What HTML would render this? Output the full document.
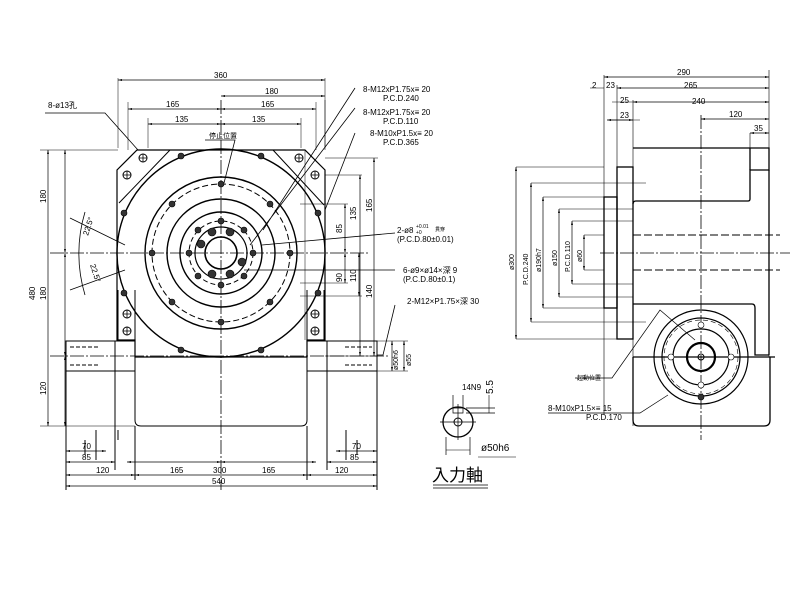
<!DOCTYPE html>
<html><head><meta charset="utf-8"><style>
html,body{margin:0;padding:0;background:#fff}
svg{display:block}
text{font-family:"Liberation Sans","Noto Sans CJK JP",sans-serif;fill:#000}
</style></head><body>
<svg width="800" height="609" viewBox="0 0 800 609" xmlns="http://www.w3.org/2000/svg" font-size="8">
<defs><marker id="a" viewBox="0 0 8 4" refX="8" refY="2" markerWidth="6" markerHeight="3" orient="auto-start-reverse"><path d="M0,0L8,2L0,4z"/></marker></defs>
<g fill="none" stroke="#000" stroke-width="1">
<path d="M137,150H305L325,170V340H307V357H135V340H117V170Z" stroke-width="1.2"/>
<path d="M170,150L119,203M273,150L324,205"/>
<circle cx="221" cy="253" r="104" stroke-width="1.4"/>
<circle cx="221" cy="253" r="76" stroke-width="1.4"/>
<circle cx="221" cy="253" r="54" stroke-width="1.4"/>
<circle cx="221" cy="253" r="41" stroke-width="1.4"/>
<circle cx="221" cy="253" r="69" stroke-dasharray="6,3"/>
<circle cx="221" cy="253" r="32" stroke-dasharray="5,3"/>
<circle cx="221" cy="253" r="26" stroke-width="1.2"/>
<circle cx="221" cy="253" r="16" stroke-width="1.6"/>
<path d="M50,253H370M221,100V490M50,356H390" stroke-width="0.8" stroke-dasharray="14,2,2,2"/>
<rect x="66" y="341" width="49" height="30"/>
<rect x="115" y="341" width="20" height="30"/>
<rect x="327" y="341" width="50" height="30"/>
<rect x="307" y="341" width="20" height="30"/>
<path d="M118,290V341M135,290V341M307,290V341M324,290V341"/>
<path d="M135,371V420Q135,426 141,426H301Q307,426 307,420V371"/>
<path d="M66,371V490M377,371V490M115,371V470M327,371V470M135,426V480M307,426V480M118,430V440M85,440V455M96,430V460M357,440V455M346,430V460"/>
<path d="M70,347H100M70,365H100M345,347H372M345,365H372" stroke-dasharray="4,2"/>
<path d="M45,113H105L138,150M355,88L263,230M355,108L250,245M355,133L325,210M395,233L262,245M395,270L244,270M395,305L383,355L377,355M70,218L125,245M70,290L125,270" stroke-width="0.8"/>
<path d="M85,212A143,143 0 0 0 85,295" stroke-width="0.8"/>
<path d="M205,140H235L224,183" stroke-width="0.8"/>
<path d="M118,148V78M325,148V78M325,100V150M148,148V118M301,148V118M128,150V102M316,150V102M305,150V340" stroke-width="0.5"/>
<g stroke-width="0.7" marker-start="url(#a)" marker-end="url(#a)">
<path d="M118,80H325"/><path d="M221,96H325"/><path d="M128,109H221"/><path d="M221,109H316"/><path d="M148,124H221"/><path d="M221,124H301"/>
<path d="M48,150V426"/><path d="M65,150V253"/><path d="M65,253V356"/><path d="M65,356V426"/>
<path d="M374,158V356"/><path d="M360,175V356"/><path d="M345,204V253"/><path d="M345,253V283"/><path d="M359,253V296"/>
<path d="M66,451H106"/><path d="M66,462H115"/><path d="M66,475H135"/><path d="M127,462H221"/><path d="M221,462H316"/><path d="M135,475H307"/><path d="M307,475H377"/><path d="M66,486H377"/><path d="M336,451H377"/><path d="M327,462H377"/>
<path d="M392,341V371"/><path d="M404,341V371"/>
</g>
<path d="M325,158H378M325,175H362M300,204H348M300,283H348M300,296H362M325,356H378M40,150H118M40,426H135M370,341H408M370,371H408" stroke-width="0.5"/>
<path d="M604,75V415M617,85V339M633,100V426M769,70V357" stroke-width="0.6"/>
<rect x="617" y="167" width="16" height="172" stroke-width="1.3"/>
<rect x="604" y="197" width="13" height="111" stroke-width="1.3"/>
<path d="M633,148H769V170H750V199Q750,201 748,201H636Q633,201 633,204" stroke-width="1.3"/>
<path d="M750,148V170M769,170V355" stroke-width="1.3"/>
<path d="M633,304H752Q755,304 755,308V355H769M633,357H775M633,357V420Q633,426 639,426H764Q770,426 770,420V357" stroke-width="1.3"/>
<path d="M633,235H780M633,270H780" stroke-dasharray="8,3"/>
<path d="M600,253H790M701,115V440" stroke-width="0.8" stroke-dasharray="14,2,2,2"/>
<circle cx="701" cy="357" r="47" stroke-width="1.2"/>
<circle cx="701" cy="357" r="39" stroke-width="1.2"/>
<circle cx="701" cy="357" r="28" stroke-width="1.2"/>
<circle cx="701" cy="357" r="14" stroke-width="2.2"/>
<circle cx="701" cy="357" r="3"/>
<circle cx="701" cy="357" r="37" stroke-dasharray="5,3" stroke-width="0.6"/>
<path d="M516,167H604M531,183H646M543,197H604M559,209H633M572,221H633M584,235H604M516,339H617M531,322H646M543,308H604M559,297H633M572,284H633M584,270H604" stroke-width="0.5"/>
<g stroke-width="0.7" marker-start="url(#a)" marker-end="url(#a)">
<path d="M516,167V339"/><path d="M531,183V322"/><path d="M543,197V308"/><path d="M559,209V297"/><path d="M572,221V284"/><path d="M584,235V270"/>
<path d="M604,77H769"/><path d="M617,88H769"/><path d="M633,102H769"/><path d="M701,119H769"/><path d="M750,133H769"/>
<path d="M607,120H633"/>
</g>
<path d="M590,88H604M612,102H633M610,120H640M750,133V148" stroke-width="0.6"/>
<path d="M575,378H612L660,310L695,340M548,413H640L668,395" stroke-width="0.7"/>
<circle cx="458" cy="422" r="15" stroke-width="1.3"/>
<circle cx="458" cy="422" r="4"/>
<path d="M440,422H476M458,404V440M453,408H463V413H453ZM453,395V408M463,395V408M446,437V455M470,437V455M466,408H495M466,413H495" stroke-width="0.7"/>
<path d="M446,450H470M489,395V413M478,457H516" stroke-width="0.6"/>
<path d="M433,485H488M433,488H488" stroke-width="0.8"/>
</g>
<g stroke="#000" stroke-width="1" fill="#fff">
<circle cx="143" cy="158" r="4"/><circle cx="127" cy="175" r="4"/><circle cx="299" cy="158" r="4"/><circle cx="315" cy="175" r="4"/>
<circle cx="127" cy="314" r="4"/><circle cx="127" cy="331" r="4"/><circle cx="315" cy="314" r="4"/><circle cx="315" cy="331" r="4"/>
</g>
<path d="M139,158h8M143,154v8M123,175h8M127,171v8M295,158h8M299,154v8M311,175h8M315,171v8M123,314h8M127,310v8M123,331h8M127,327v8M311,314h8M315,310v8M311,331h8M315,327v8" stroke="#000" stroke-width="0.8"/>
<g fill="#333" stroke="#000" stroke-width="0.6">
<circle cx="181" cy="156" r="3"/><circle cx="261" cy="156" r="3"/><circle cx="124" cy="213" r="3"/><circle cx="318" cy="213" r="3"/><circle cx="124" cy="293" r="3"/><circle cx="318" cy="293" r="3"/><circle cx="181" cy="350" r="3"/><circle cx="261" cy="350" r="3"/>
<circle cx="221" cy="184" r="3"/><circle cx="221" cy="322" r="3"/><circle cx="152" cy="253" r="3"/><circle cx="290" cy="253" r="3"/><circle cx="172" cy="204" r="3"/><circle cx="270" cy="204" r="3"/><circle cx="172" cy="302" r="3"/><circle cx="270" cy="302" r="3"/>
<circle cx="221" cy="221" r="3"/><circle cx="221" cy="285" r="3"/><circle cx="189" cy="253" r="3"/><circle cx="253" cy="253" r="3"/>
<circle cx="198" cy="230" r="3"/><circle cx="244" cy="230" r="3"/><circle cx="198" cy="276" r="3"/><circle cx="244" cy="276" r="3"/>
<circle cx="212" cy="232" r="4"/><circle cx="230" cy="232" r="4"/><circle cx="212" cy="274" r="4"/><circle cx="230" cy="274" r="4"/><circle cx="201" cy="244" r="4"/><circle cx="242" cy="262" r="4"/>
<circle cx="701" cy="325" r="3" fill="#fff"/><circle cx="671" cy="357" r="3" fill="#fff"/><circle cx="731" cy="357" r="3" fill="#fff"/><circle cx="701" cy="385" r="3" fill="#fff"/><circle cx="701" cy="397" r="3"/>
</g>
<g>
<text x="214" y="78">360</text><text x="265" y="94">180</text><text x="166" y="107">165</text><text x="261" y="107">165</text><text x="175" y="122">135</text><text x="252" y="122">135</text>
<text x="48" y="108">8-ø13孔</text>
<text x="209" y="138" font-size="7">停止位置</text>
<text x="363" y="92">8-M12xP1.75x≡ 20</text><text x="383" y="101">P.C.D.240</text>
<text x="363" y="115">8-M12xP1.75x≡ 20</text><text x="383" y="124">P.C.D.110</text>
<text x="370" y="136">8-M10xP1.5x≡ 20</text><text x="383" y="145">P.C.D.365</text>
<text x="397" y="233">2-ø8</text><text x="416" y="228" font-size="5">+0.01</text><text x="416" y="234" font-size="5">+0</text><text x="435" y="231" font-size="5">貫穿</text>
<text x="397" y="242">(P.C.D.80±0.01)</text>
<text x="403" y="273">6-ø9×ø14×深 9</text><text x="403" y="282">(P.C.D.80±0.1)</text>
<text x="407" y="304">2-M12×P1.75×深 30</text>
<text x="96" y="473">120</text><text x="170" y="473">165</text><text x="262" y="473">165</text><text x="213" y="473">300</text><text x="335" y="473">120</text><text x="212" y="484">540</text>
<text x="82" y="449">70</text><text x="82" y="460">85</text><text x="352" y="449">70</text><text x="350" y="460">85</text>
<text x="462" y="390">14N9</text>
<text x="481" y="451" font-size="10">ø50h6</text>
<text x="432" y="481" font-size="17">入力軸</text>
<text x="677" y="75">290</text><text x="684" y="88">265</text><text x="692" y="104">240</text><text x="729" y="117">120</text><text x="754" y="131">35</text>
<text x="592" y="88">2</text><text x="606" y="88">23</text><text x="620" y="103">25</text><text x="620" y="118">23</text>
<text x="577" y="380" font-size="6">起動位置</text>
<text x="548" y="411">8-M10xP1.5×≡ 15</text><text x="586" y="420">P.C.D.170</text>
</g>
<g>
<text transform="translate(46,203) rotate(-90)">180</text>
<text transform="translate(46,300) rotate(-90)">180</text>
<text transform="translate(46,395) rotate(-90)">120</text>
<text transform="translate(35,300) rotate(-90)">480</text>
<text transform="translate(356,220) rotate(-90)">135</text>
<text transform="translate(372,212) rotate(-90)">165</text>
<text transform="translate(342,233) rotate(-90)">85</text>
<text transform="translate(342,282) rotate(-90)">90</text>
<text transform="translate(356,282) rotate(-90)">110</text>
<text transform="translate(372,298) rotate(-90)">140</text>
<text transform="translate(398,370) rotate(-90)" font-size="7">ø50h6</text>
<text transform="translate(411,366) rotate(-90)" font-size="7">ø55</text>
<text transform="translate(88,236) rotate(-72)">22.5°</text>
<text transform="translate(90,265) rotate(72)">22.5°</text>
<text transform="translate(493,394) rotate(-90)" font-size="10">5.5</text>
<text transform="translate(514,270) rotate(-90)" font-size="7">ø300</text>
<text transform="translate(528,285) rotate(-90)" font-size="7">P.C.D.240</text>
<text transform="translate(541,272) rotate(-90)" font-size="7">ø190h7</text>
<text transform="translate(557,266) rotate(-90)" font-size="7">ø150</text>
<text transform="translate(570,272) rotate(-90)" font-size="7">P.C.D.110</text>
<text transform="translate(582,262) rotate(-90)" font-size="7">ø60</text>
</g>
</svg>
</body></html>
